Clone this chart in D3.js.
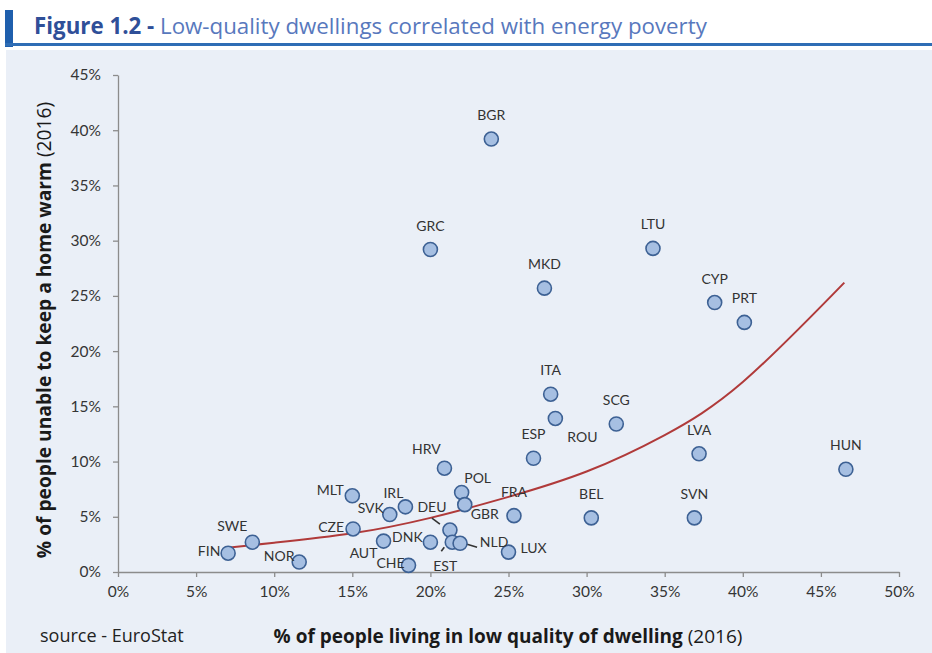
<!DOCTYPE html>
<html>
<head>
<meta charset="utf-8">
<script src="https://cdn.jsdelivr.net/npm/d3@7"></script>
<style>
  body { margin: 0; background: #fff; }
  svg { display: block; font-family: Lato, "Open Sans", sans-serif; }
</style>
</head>
<body>
<svg width="932" height="653"></svg>
<script>
const svg = d3.select('svg');
const width = +svg.attr('width');
const height = +svg.attr('height');

// country codes and values (% of population, 2016)
const countries = ['BGR','GRC','MKD','LTU','CYP','PRT','ITA','ROU','SCG','ESP','LVA','HUN',
  'HRV','POL','GBR','FRA','BEL','SVN','LUX','DEU','EST','NLD','DNK','CHE','AUT','CZE',
  'SVK','IRL','MLT','SWE','FIN','NOR'];
const lowQuality = [23.9, 20.0, 27.3, 34.25, 38.2, 40.1, 27.7, 28.0, 31.9, 26.6, 37.2, 46.6,
  20.9, 22.0, 22.2, 25.35, 30.3, 36.9, 25.0, 21.25, 21.4, 21.9, 20.0, 18.6, 17.0, 15.05,
  17.4, 18.4, 15.0, 8.6, 7.05, 11.6];
const cannotHeat = [39.2, 29.2, 25.7, 29.3, 24.4, 22.6, 16.1, 13.9, 13.4, 10.3, 10.7, 9.3,
  9.4, 7.2, 6.1, 5.1, 4.9, 4.9, 1.8, 3.8, 2.7, 2.6, 2.7, 0.6, 2.8, 3.9,
  5.2, 5.9, 6.9, 2.7, 1.7, 0.9];

// exponential trend line
const trendX = [7, 10, 15, 20, 25, 30, 35, 40, 46.5];
const trendY = [2.2, 2.65, 3.5, 4.9, 6.8, 9.1, 12.4, 17.2, 26.2];

const xTicks = [0, 5, 10, 15, 20, 25, 30, 35, 40, 45, 50];
const yTicks = [0, 5, 10, 15, 20, 25, 30, 35, 40, 45];

// label placement around each point (label centre relative to point centre)
const labelOffset = {
  HRV: [-18, -19], POL: [16, -15], GBR: [20, 9], ROU: [27, 18], LUX: [25, -4],
  DEU: [-18, -23], EST: [-7, 24], NLD: [34, -1], DNK: [-23, -5], CHE: [-18, -2],
  AUT: [-20, 12], CZE: [-22, -2], SVK: [-19, -7], IRL: [-12, -14], MLT: [-22, -6],
  SWE: [-20, -16], FIN: [-19, -2], NOR: [-20, -6]
};
// small leader lines for the crowded labels
const leaders = {
  DEU: [-18, -12, -10, -6], NLD: [7, 1, 17, 4], EST: [-11, 9, -8, 5]
};

const points = countries.map((c, i) => ({ code: c, x: lowQuality[i], y: cannotHeat[i] }));
const trend = trendX.map((x, i) => ({ x, y: trendY[i] }));

// header
svg.append('rect').attr('x', 6).attr('y', 50).attr('width', width - 6).attr('height', height - 50)
  .attr('fill', '#eaeff7');
svg.append('rect').attr('x', 5).attr('y', 10).attr('width', 8).attr('height', 37).attr('fill', '#1f5fad');
svg.append('rect').attr('x', 5).attr('y', 43).attr('width', width - 5).attr('height', 3).attr('fill', '#2e6db5');

const title = svg.append('text').attr('x', 34).attr('y', 34).attr('font-size', 22.3)
  .attr('font-family', '"Open Sans", sans-serif');
title.append('tspan').attr('font-weight', 'bold').attr('fill', '#2f4f98').text('Figure 1.2 - ');
title.append('tspan').attr('fill', '#5878bd').text('Low-quality dwellings correlated with energy poverty');

const x = d3.scaleLinear().domain([0, 50]).range([118, 899]);
const y = d3.scaleLinear().domain([0, 45]).range([572, 75]);

const xAxis = svg.append('g')
  .attr('transform', `translate(0,${y(0)})`)
  .call(d3.axisBottom(x).tickValues(xTicks).tickSize(5).tickSizeOuter(0).tickPadding(9)
    .tickFormat(d => d + '%'));
const yAxis = svg.append('g')
  .attr('transform', `translate(${x(0)},0)`)
  .call(d3.axisLeft(y).tickValues(yTicks).tickSize(5).tickSizeOuter(0).tickPadding(12)
    .tickFormat(d => d + '%'));

[xAxis, yAxis].forEach(a => {
  a.selectAll('path, line').attr('stroke', '#8c8c8c').attr('stroke-width', 1.3);
  a.selectAll('text').attr('font-size', 15.5).attr('fill', '#353535')
    .attr('font-family', 'Lato, sans-serif');
});

// trend line
svg.append('path')
  .datum(trend)
  .attr('fill', 'none')
  .attr('stroke', '#b03a3a')
  .attr('stroke-width', 2)
  .attr('d', d3.line().x(d => x(d.x)).y(d => y(d.y)).curve(d3.curveNatural));

// leader lines
svg.selectAll('line.leader')
  .data(points.filter(d => leaders[d.code]))
  .enter()
    .append('line')
    .attr('class', 'leader')
    .attr('x1', d => x(d.x) + leaders[d.code][0])
    .attr('y1', d => y(d.y) + leaders[d.code][1])
    .attr('x2', d => x(d.x) + leaders[d.code][2])
    .attr('y2', d => y(d.y) + leaders[d.code][3])
    .attr('stroke', '#333')
    .attr('stroke-width', 1.6);

// points
svg.selectAll('circle')
  .data(points)
  .enter()
    .append('circle')
    .attr('cx', d => x(d.x))
    .attr('cy', d => y(d.y))
    .attr('r', 7)
    .attr('fill', '#a6bfe2')
    .attr('stroke', '#3d6194')
    .attr('stroke-width', 1.6);

// country labels
svg.selectAll('text.country')
  .data(points)
  .enter()
    .append('text')
    .attr('class', 'country')
    .attr('x', d => x(d.x) + (labelOffset[d.code] ? labelOffset[d.code][0] : 0))
    .attr('y', d => y(d.y) + (labelOffset[d.code] ? labelOffset[d.code][1] : -24))
    .attr('dy', '0.36em')
    .attr('text-anchor', 'middle')
    .attr('font-size', 14)
    .attr('fill', '#333')
    .text(d => d.code);

// axis titles
const yTitle = svg.append('text')
  .attr('transform', 'translate(51,330) rotate(-90)')
  .attr('text-anchor', 'middle')
  .attr('font-family', '"Open Sans", sans-serif')
  .attr('font-size', 19.2)
  .attr('fill', '#1a1a1a');
yTitle.append('tspan').attr('font-weight', 'bold').text('% of people unable to keep a home warm');
yTitle.append('tspan').text(' (2016)');

const xTitle = svg.append('text')
  .attr('x', 508).attr('y', 643)
  .attr('text-anchor', 'middle')
  .attr('font-family', '"Open Sans", sans-serif')
  .attr('font-size', 19)
  .attr('fill', '#1a1a1a');
xTitle.append('tspan').attr('font-weight', 'bold').text('% of people living in low quality of dwelling');
xTitle.append('tspan').text(' (2016)');

svg.append('text')
  .attr('x', 40).attr('y', 642)
  .attr('font-family', '"Open Sans", sans-serif')
  .attr('font-size', 18)
  .attr('fill', '#222')
  .text('source - EuroStat');
</script>
</body>
</html>
